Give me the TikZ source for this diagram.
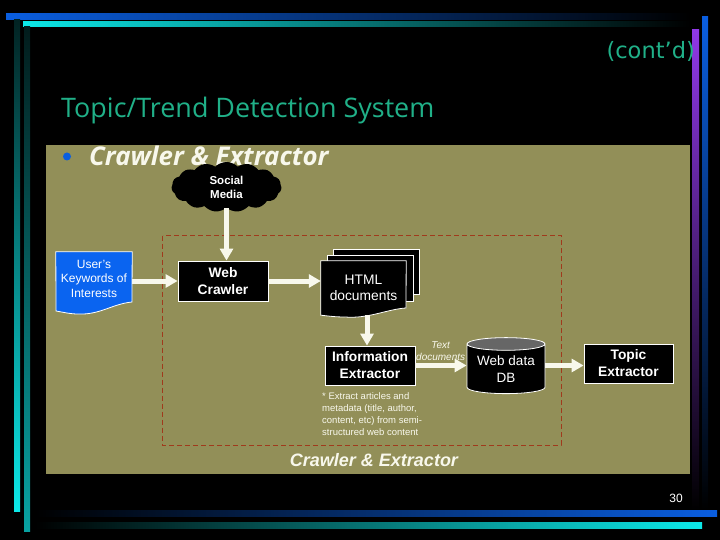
\documentclass[tikz,border=0pt]{standalone}
\usepackage{xcolor}
\usepackage{fontspec}
\setmainfont{Liberation Sans}
\newfontfamily\titlefont{Open Sans}
\newfontfamily\contfont{DejaVu Sans}
\usepackage{tikz}
\usetikzlibrary{arrows.meta,backgrounds,shapes.geometric,shapes.symbols}
\definecolor{panelolive}{HTML}{928F58}
\definecolor{titlegreen}{HTML}{20B088}
\definecolor{creamwhite}{HTML}{F8F8EC}
\definecolor{keyblue}{HTML}{0A64F0}
\definecolor{barblue}{HTML}{0A5EE0}
\definecolor{barcyan}{HTML}{0CE8E8}
\definecolor{barpurple}{HTML}{9038E8}
\definecolor{dashred}{HTML}{A03A1C}

\begin{document}
\begin{tikzpicture}[x=1pt, y=-1pt,
  box/.style={rectangle, draw=white, fill=black, line width=0.8pt, text=white, align=center, inner sep=0pt, font=\fontsize{13.8}{17}\selectfont\bfseries},
  doc/.style={rectangle, align=center, inner sep=0pt, text=white},
  arrow/.style={-{Triangle[width=13pt,length=12pt]}, line width=5pt, draw=creamwhite},
  sheet/.style={draw=white, fill=black, line width=0.8pt},
  label/.style={font=\fontsize{9.5}{12}\selectfont, text=creamwhite, align=left, inner sep=0pt}
]

% Slide background and frame bars
\useasboundingbox (0,0) rectangle (720,540);
\begin{scope}[on background layer]
\fill[black] (0,0) rectangle (720,540);
\shade[left color=barblue, middle color=barblue!75!black, right color=black] (6,14) rectangle (690,19.5);
\shade[left color=barcyan, middle color=barcyan!75!black, right color=black] (23,22) rectangle (690,27);
\shade[top color=barcyan!15!black, middle color=barcyan!70!black, bottom color=barcyan] (14,20) rectangle (20,511);
\shade[top color=barcyan!12!black, middle color=barcyan!50!black, bottom color=barcyan!70!black] (24,27) rectangle (30,531);
\shade[top color=barpurple, middle color=barpurple!85!black, bottom color=black] (692,30) rectangle (699,510);
\shade[top color=barblue, middle color=barblue!85!black, bottom color=black] (702,17) rectangle (708,510);
\shade[left color=black, middle color=barblue!75!black, right color=barblue] (35,510) rectangle (717,516);
\shade[left color=black, middle color=barcyan!75!black, right color=barcyan] (35,522) rectangle (702,528);
\fill[panelolive] (46,145) rectangle (690,474);
\draw[dashred, dash pattern=on 5pt off 3pt, line width=1pt] (162.5,235.5) rectangle (561,445);
\end{scope}

% Headings
\node[font=\titlefont\fontsize{26.9}{30}\selectfont, text=titlegreen, anchor=west, inner sep=0pt] (heading) at (61,111) {Topic/Trend Detection System};
\node[font=\contfont\fontsize{22.5}{26}\selectfont, text=titlegreen, anchor=east, inner sep=0pt] (contd) at (695,51) {(cont’d)};
\node[circle, fill=barblue, inner sep=0pt, minimum size=8pt] (bullet) at (67,156.5) {};
\node[font=\titlefont\fontsize{25.8}{28}\selectfont\bfseries\itshape, text=creamwhite, anchor=west, inner sep=0pt] (subhead) at (89,156) {Crawler \& Extractor};

% Social media cloud
\node[cloud, cloud puffs=15, cloud puff arc=90, aspect=2.4, fill=black, text=white, align=center, inner sep=0pt, minimum width=110pt, minimum height=50pt, font=\fontsize{11.5}{14}\selectfont\bfseries] (social) at (226.5,187) {Social\\Media};

% Boxes
\node[box, minimum width=90pt, minimum height=40pt] (crawler) at (223,281) {Web\\Crawler};
\node[box, minimum width=90pt, minimum height=39pt] (extractor) at (370,365.5) {Information\\Extractor};
\node[box, minimum width=89pt, minimum height=39pt] (topic) at (628.5,363.5) {Topic\\Extractor};
\node[cylinder, shape border rotate=90, aspect=0.22, cylinder uses custom fill, cylinder body fill=black, cylinder end fill=black!60!white, draw=white, line width=0.8pt, text=white, align=center, inner sep=0pt, minimum width=78pt, minimum height=56pt, font=\fontsize{13.5}{17}\selectfont] (webdb) at (506,369) {Web data\\DB};

% Document shapes
\node[doc, minimum width=76pt, minimum height=53pt, font=\fontsize{12}{14.5}\selectfont] (keywords) at (94,278.5) {User's\\Keywords of\\Interests};
\node[doc, minimum width=85pt, minimum height=54pt, font=\fontsize{13.8}{16}\selectfont] (html) at (363.5,288) {HTML\\documents};
\begin{scope}[on background layer]
\draw[draw=white, fill=keyblue, line width=0.8pt] (keywords.north west) -- (keywords.north east) -- (132,302) .. controls (112,304) and (100,315) .. (78,314) .. controls (70,314) and (62,312) .. (56,311) -- cycle;
\draw[sheet] (333.5,249.5) rectangle (419.5,294.5);
\draw[sheet] (327,255.5) rectangle (413,301);
\draw[sheet] (html.north west) -- (html.north east) -- (406,308) .. controls (388,309) and (368,319) .. (345,317) .. controls (335,317) and (328,316) .. (html.south west) -- cycle;
\end{scope}

% Text labels
\node[label, anchor=west, font=\fontsize{10}{12}\selectfont\itshape, align=center] (textdocs) at (416,351) {Text\\documents};
\node[label, anchor=north west] (note) at (322,392) {* Extract articles and\\metadata (title, author,\\content, etc) from semi-\\structured web content};
\node[font=\fontsize{18}{20}\selectfont\bfseries\itshape, text=creamwhite, inner sep=0pt] (caption) at (374,460) {Crawler \& Extractor};
\node[font=\fontsize{12}{14}\selectfont, text=white, inner sep=0pt] (pagenum) at (676,498) {30};

% Connections
\draw[arrow] (social.south) -- (social.south |- crawler.north);
\draw[arrow] (keywords.east |- crawler.west) -- (crawler.west);
\draw[arrow] (crawler.east) -- (crawler.east -| html.west);
\draw[arrow] ([xshift=3.5pt]html.south) -- ([xshift=-3pt]extractor.north);
\draw[arrow] (extractor.east) -- (extractor.east -| webdb.west);
\draw[arrow] (webdb.east |- extractor.east) -- (extractor.east -| topic.west);

\end{tikzpicture}
\end{document}
